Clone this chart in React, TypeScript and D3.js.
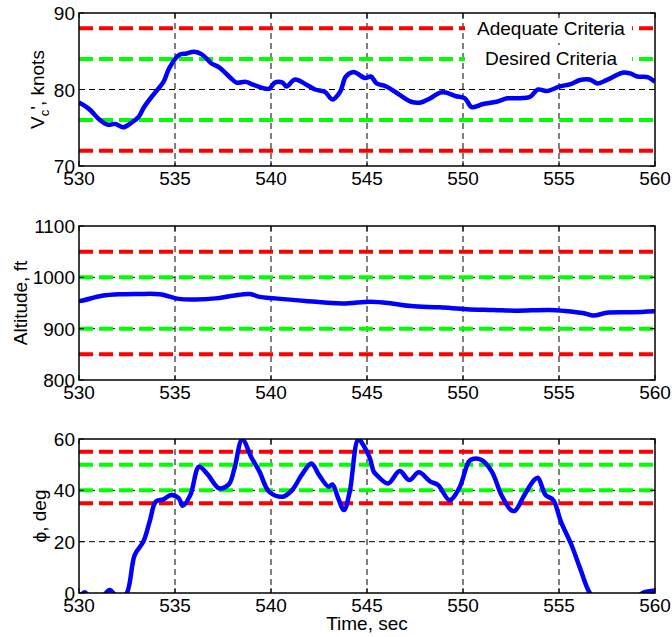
import React from 'react';
import * as d3 from 'd3';

// time axis
const timeTicks = [530, 535, 540, 545, 550, 555, 560];

// top panel: calibrated airspeed
const vcTime = [530.0, 530.5, 531.1, 531.5, 531.9, 532.3, 532.7, 533.1, 533.4, 533.96, 534.4, 534.7, 535.2, 535.6, 536.0, 536.4, 536.9, 537.3, 537.9, 538.2, 538.7, 539.1, 539.9, 540.2, 540.6, 540.8, 541.25, 541.8, 542.3, 542.8, 543.2, 543.6, 543.9, 544.3, 544.9, 545.2, 545.5, 546.0, 546.7, 547.3, 547.8, 548.3, 548.8, 549.1, 549.6, 550.1, 550.45, 551.05, 551.75, 552.3, 552.8, 553.5, 553.9, 554.35, 555.05, 555.6, 556.1, 556.6, 557.0, 557.5, 558.3, 558.7, 559.1, 559.65, 560.0];
const vcValues = [78.3, 77.5, 76.0, 75.4, 75.5, 75.05, 75.6, 76.4, 77.75, 79.6, 81.0, 82.8, 84.5, 84.7, 84.95, 84.6, 83.4, 82.9, 81.5, 80.9, 81.0, 80.6, 80.1, 80.9, 80.9, 80.4, 81.3, 80.7, 80.0, 79.7, 78.7, 79.7, 81.7, 82.3, 81.5, 81.7, 80.8, 80.4, 79.3, 78.4, 78.3, 78.85, 79.6, 79.6, 79.15, 78.85, 77.7, 78.1, 78.4, 78.85, 78.85, 79.05, 80.0, 79.8, 80.4, 80.7, 81.25, 81.3, 80.8, 81.25, 82.2, 82.1, 81.7, 81.6, 81.0];
const vcTicks = [70, 80, 90];
const vcAdequate = [72, 88];
const vcDesired = [76, 84];

// middle panel: altitude
const altTime = [530.0, 530.2, 531.2, 532.2, 533.1, 534.2, 535.2, 536.1, 537.1, 538.0, 538.9, 539.4, 540.2, 541.8, 543.7, 545.2, 546.3, 547.3, 548.8, 550.2, 551.6, 552.7, 554.5, 555.3, 556.3, 556.8, 557.5, 558.8, 560.0];
const altValues = [954, 955, 964, 967, 967.5, 967, 958, 957, 959, 964, 967.5, 962, 959, 954, 949, 952.5, 949, 944, 941.5, 938, 936.5, 935, 936.5, 934.5, 930, 925.5, 931, 932, 934];
const altTicks = [800, 900, 1000, 1100];
const altAdequate = [850, 1050];
const altDesired = [900, 1000];

// bottom panel: bank angle
const phiTime = [530.0, 530.3, 530.6, 531.2, 531.6, 532.0, 532.45, 532.9, 533.35, 533.7, 534.0, 534.4, 534.8, 535.2, 535.4, 535.8, 536.25, 536.7, 537.3, 537.8, 538.1, 538.5, 539.0, 539.4, 539.9, 540.6, 541.1, 541.6, 542.1, 542.5, 543.0, 543.2, 543.5, 543.8, 544.1, 544.55, 544.9, 545.15, 545.35, 545.5, 546.1, 546.7, 547.2, 547.7, 548.3, 548.7, 549.3, 549.8, 550.3, 550.5, 550.97, 551.5, 552.0, 552.5, 552.7, 553.2, 553.7, 553.9, 554.3, 554.7, 555.1, 555.65, 556.1, 556.6, 557.2, 558.2, 559.0, 559.4, 560.0];
const phiValues = [-2, 0.3, -2, -1.5, 1.2, -1.5, -0.5, 14.8, 20, 28.4, 35.6, 36.5, 38.2, 36.9, 34.0, 38.2, 49.2, 46.2, 40.8, 42.3, 48.6, 59.8, 52.5, 47.3, 39.5, 37.5, 40.1, 46.0, 50.5, 46.0, 41.4, 42.3, 36.9, 32.3, 39.5, 59.8, 56.4, 52.5, 47.3, 46.0, 42.7, 47.5, 44.0, 47.0, 43.4, 42.1, 36.2, 40.8, 51.2, 52.2, 51.8, 47.3, 38.2, 32.3, 32.0, 38.2, 44.0, 44.9, 38.2, 36.2, 27.8, 18.7, 9.6, 0, -5, -6, -2, 0.2, 1.0];
const phiTicks = [0, 20, 40, 60];
const phiAdequate = [35, 55];
const phiDesired = [40, 50];

const FONT = 'Liberation Sans, Arial, sans-serif';
const W = 672;
const H = 637;
const left = 79;
const right = 655;

const panels = [
  { id: 'vc', top: 13, bottom: 166, time: vcTime, values: vcValues, ticks: vcTicks, adequate: vcAdequate, desired: vcDesired, labelX: 44 },
  { id: 'alt', top: 226, bottom: 380, time: altTime, values: altValues, ticks: altTicks, adequate: altAdequate, desired: altDesired, labelX: 27 },
  { id: 'phi', top: 439, bottom: 593, time: phiTime, values: phiValues, ticks: phiTicks, adequate: phiAdequate, desired: phiDesired, labelX: 46 },
];

const x = d3.scaleLinear().domain([530, 560]).range([left, right]);

function YLabel({ id, cx, cy }: { id: string; cx: number; cy: number }) {
  const common = { transform: `translate(${cx},${cy}) rotate(-90)`, textAnchor: 'middle' as const, fontSize: 19, fontFamily: FONT };
  if (id === 'vc') {
    return (
      <text {...common}>
        V<tspan fontSize={13} dy={5}>c</tspan>
        <tspan dy={-5}>', knots</tspan>
      </text>
    );
  }
  if (id === 'alt') return <text {...common}>Altitude, ft</text>;
  return <text {...common}>ϕ, deg</text>;
}

function Panel({ p }: { p: (typeof panels)[number] }) {
  const y = d3
    .scaleLinear()
    .domain([p.ticks[0], p.ticks[p.ticks.length - 1]])
    .range([p.bottom, p.top]);
  const line = d3
    .line<number>()
    .x((d, i) => x(p.time[i]))
    .y((d) => y(d))
    .curve(d3.curveCatmullRom.alpha(0.5));
  const clipId = `clip-${p.id}`;

  return (
    <g>
      <defs>
        <clipPath id={clipId}>
          <rect x={left} y={p.top} width={right - left} height={p.bottom - p.top} />
        </clipPath>
      </defs>
      <rect x={left} y={p.top} width={right - left} height={p.bottom - p.top} fill="white" />
      {/* grid */}
      {timeTicks.slice(1, -1).map((t) => (
        <line key={'gx' + t} x1={x(t)} x2={x(t)} y1={p.top} y2={p.bottom} stroke="black" strokeWidth={1} strokeDasharray="6,4" />
      ))}
      {p.ticks.slice(1, -1).map((v) => (
        <line key={'gy' + v} x1={left} x2={right} y1={y(v)} y2={y(v)} stroke="black" strokeWidth={1} strokeDasharray="6,4" />
      ))}
      {/* criteria */}
      {p.adequate.map((v) => (
        <line key={'a' + v} x1={left} x2={right} y1={y(v)} y2={y(v)} stroke="#ff0000" strokeWidth={4} strokeDasharray="14,6" />
      ))}
      {p.desired.map((v) => (
        <line key={'d' + v} x1={left} x2={right} y1={y(v)} y2={y(v)} stroke="#00ff00" strokeWidth={4} strokeDasharray="14,6" />
      ))}
      {p.id === 'vc' && (
        <g fontFamily={FONT} fontSize={19}>
          <rect x={465} y={15} width={167} height={26} fill="white" />
          <rect x={465} y={45} width={167} height={26} fill="white" />
          <text x={551} y={35} textAnchor="middle">Adequate Criteria</text>
          <text x={551} y={65} textAnchor="middle">Desired Criteria</text>
        </g>
      )}
      <path d={line(p.values) || ''} fill="none" stroke="#0000ff" strokeWidth={4.5} strokeLinejoin="round" clipPath={`url(#${clipId})`} />
      {/* ticks */}
      {timeTicks.map((t) => (
        <g key={'tx' + t}>
          <line x1={x(t)} x2={x(t)} y1={p.bottom} y2={p.bottom - 5} stroke="black" />
          <line x1={x(t)} x2={x(t)} y1={p.top} y2={p.top + 5} stroke="black" />
          <text x={x(t)} y={p.bottom + 19} textAnchor="middle" fontSize={19} fontFamily={FONT}>{t}</text>
        </g>
      ))}
      {p.ticks.map((v) => (
        <g key={'ty' + v}>
          <line x1={left} x2={left + 5} y1={y(v)} y2={y(v)} stroke="black" />
          <line x1={right} x2={right - 5} y1={y(v)} y2={y(v)} stroke="black" />
          <text x={75} y={y(v) + 7} textAnchor="end" fontSize={19} fontFamily={FONT}>{v}</text>
        </g>
      ))}
      <rect x={left} y={p.top} width={right - left} height={p.bottom - p.top} fill="none" stroke="black" strokeWidth={1.5} />
      <YLabel id={p.id} cx={p.labelX} cy={(p.top + p.bottom) / 2} />
    </g>
  );
}

export default function App() {
  return (
    <div style={{ position: 'absolute', left: 0, top: 0 }}>
      <svg width={W} height={H} style={{ display: 'block', background: 'white' }}>
        {panels.map((p) => (
          <Panel key={p.id} p={p} />
        ))}
        <text x={(left + right) / 2} y={630} textAnchor="middle" fontSize={19} fontFamily={FONT}>
          Time, sec
        </text>
      </svg>
    </div>
  );
}
